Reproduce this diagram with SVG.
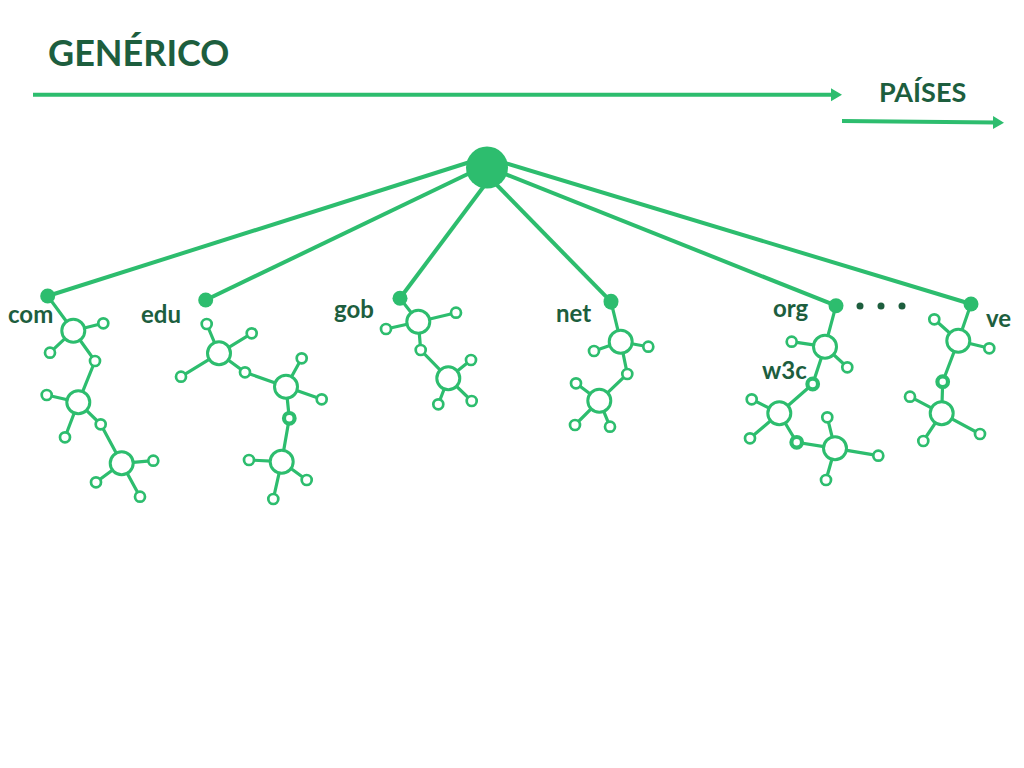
<svg xmlns="http://www.w3.org/2000/svg" width="1024" height="768" viewBox="0 0 1024 768">
<defs>
<marker id="arrow" markerUnits="userSpaceOnUse" markerWidth="12" markerHeight="14" refX="3" refY="6.5" orient="auto">
<path d="M0,0 L11,6.5 L0,13 Z" fill="#2dbd6e"/>
</marker>
</defs>
<style>
.title{font-family:Lato,"Liberation Sans",sans-serif;font-weight:bold;fill:#1d5e3e}
.lbl{font-family:Lato,"Liberation Sans",sans-serif;font-weight:bold;fill:#1d5e3e;font-size:24px}
.axis{stroke:#2dbd6e;stroke-width:4;fill:none}
.trunk{stroke:#2dbd6e;stroke-width:4;fill:none}
.bond{stroke:#2dbd6e;stroke-width:3.2;fill:none}
.dot{fill:#2dbd6e}
.hub{fill:#fff;stroke:#2dbd6e;stroke-width:3}
.sat{fill:#fff;stroke:#2dbd6e;stroke-width:2.7}
.thk{fill:#fff;stroke:#2dbd6e;stroke-width:4.2}
.ell{fill:#1d5e3e}
</style>
<rect width="1024" height="768" fill="#fff"/>

<g id="header">
<text class="title" x="48" y="66" font-size="36">GENÉRICO</text>
<text class="title" x="879" y="102" font-size="27">PAÍSES</text>
</g>

<g id="connectors">
<line class="axis" x1="33" y1="94.7" x2="834" y2="94.7" marker-end="url(#arrow)"/>
<line class="axis" x1="842" y1="121" x2="996" y2="122.6" marker-end="url(#arrow)"/>
<line class="trunk" x1="470" y1="162" x2="47.7" y2="296"/>
<line class="trunk" x1="472" y1="172" x2="205.7" y2="300"/>
<line class="trunk" x1="490" y1="178" x2="400" y2="298.3"/>
<line class="trunk" x1="490" y1="178" x2="611" y2="301.7"/>
<line class="trunk" x1="505" y1="174" x2="836" y2="305.7"/>
<line class="trunk" x1="505" y1="163" x2="971" y2="304"/>
</g>

<g id="root">
<circle class="dot" cx="487" cy="167.5" r="21"/>
</g>

<g id="com">
<path class="bond" d="M47.7,296 L73.3,330.7 M73.3,330.7 L103.3,323.3 M73.3,330.7 L50,352.7 M73.3,330.7 L95,361 L78.3,402.3 M78.3,402.3 L46.7,395 M78.3,402.3 L65,437.3 M78.3,402.3 L100.7,424.3 L121.7,463.3 M121.7,463.3 L153.3,460.7 M121.7,463.3 L96,482.3 M121.7,463.3 L140,496.7"/>
<circle class="dot" cx="47.7" cy="296" r="7.5"/>
<circle class="hub" cx="73.3" cy="330.7" r="11.5"/>
<circle class="hub" cx="78.3" cy="402.3" r="11.5"/>
<circle class="hub" cx="121.7" cy="463.3" r="11.5"/>
<circle class="sat" cx="103.3" cy="323.3" r="5"/>
<circle class="sat" cx="50" cy="352.7" r="5"/>
<circle class="sat" cx="95" cy="361" r="5"/>
<circle class="sat" cx="46.7" cy="395" r="5"/>
<circle class="sat" cx="65" cy="437.3" r="5"/>
<circle class="sat" cx="100.7" cy="424.3" r="5"/>
<circle class="sat" cx="153.3" cy="460.7" r="5"/>
<circle class="sat" cx="96" cy="482.3" r="5"/>
<circle class="sat" cx="140" cy="496.7" r="5"/>
<text class="lbl" x="8" y="323">com</text>
</g>

<g id="edu">
<path class="bond" d="M219,353.3 L206.7,324 M219,353.3 L251.7,333.3 M219,353.3 L181,376.7 M219,353.3 L245,372.3 L286,386.7 M286,386.7 L301.7,358.3 M286,386.7 L321.7,399.3 M286,386.7 L289.3,418.3 L281.7,461.7 M281.7,461.7 L249,460 M281.7,461.7 L306.7,480 M281.7,461.7 L273.3,499"/>
<circle class="dot" cx="205.7" cy="300" r="7.5"/>
<circle class="hub" cx="219" cy="353.3" r="11.5"/>
<circle class="hub" cx="286" cy="386.7" r="11.5"/>
<circle class="hub" cx="281.7" cy="461.7" r="11.5"/>
<circle class="sat" cx="206.7" cy="324" r="5"/>
<circle class="sat" cx="251.7" cy="333.3" r="5"/>
<circle class="sat" cx="181" cy="376.7" r="5"/>
<circle class="sat" cx="245" cy="372.3" r="5"/>
<circle class="sat" cx="301.7" cy="358.3" r="5"/>
<circle class="sat" cx="321.7" cy="399.3" r="5"/>
<circle class="thk" cx="289.3" cy="418.3" r="5.3"/>
<circle class="sat" cx="249" cy="460" r="5"/>
<circle class="sat" cx="306.7" cy="480" r="5"/>
<circle class="sat" cx="273.3" cy="499" r="5"/>
<text class="lbl" x="141" y="323">edu</text>
</g>

<g id="gob">
<path class="bond" d="M400,298.3 L418.3,321.7 M418.3,321.7 L456,312.7 M418.3,321.7 L386,329 M418.3,321.7 L420.7,350 L448.3,378.3 M448.3,378.3 L471,360 M448.3,378.3 L471.7,401 M448.3,378.3 L438.3,404.3"/>
<circle class="dot" cx="400" cy="298.3" r="7.5"/>
<circle class="hub" cx="418.3" cy="321.7" r="11.5"/>
<circle class="hub" cx="448.3" cy="378.3" r="11.5"/>
<circle class="sat" cx="456" cy="312.7" r="5"/>
<circle class="sat" cx="386" cy="329" r="5"/>
<circle class="sat" cx="420.7" cy="350" r="5"/>
<circle class="sat" cx="471" cy="360" r="5"/>
<circle class="sat" cx="471.7" cy="401" r="5"/>
<circle class="sat" cx="438.3" cy="404.3" r="5"/>
<text class="lbl" x="334" y="318">gob</text>
</g>

<g id="net">
<path class="bond" d="M611,301.7 L620.7,341.7 M620.7,341.7 L648.3,346.7 M620.7,341.7 L594,351 M620.7,341.7 L627.3,374 L599.3,400.7 M599.3,400.7 L576,383.3 M599.3,400.7 L575,425 M599.3,400.7 L610,426.7"/>
<ellipse class="dot" cx="611" cy="301.7" rx="7.5" ry="8"/>
<circle class="hub" cx="620.7" cy="341.7" r="11.5"/>
<circle class="hub" cx="599.3" cy="400.7" r="11.5"/>
<circle class="sat" cx="648.3" cy="346.7" r="5"/>
<circle class="sat" cx="594" cy="351" r="5"/>
<circle class="sat" cx="627.3" cy="374" r="5"/>
<circle class="sat" cx="576" cy="383.3" r="5"/>
<circle class="sat" cx="575" cy="425" r="5"/>
<circle class="sat" cx="610" cy="426.7" r="5"/>
<text class="lbl" x="556" y="322">net</text>
</g>

<g id="org">
<path class="bond" d="M836,305.7 L825,346.7 M825,346.7 L791.7,341.7 M825,346.7 L847.3,367.3 M825,346.7 L812.7,384 L779.3,413.3 M779.3,413.3 L751.7,399.3 M779.3,413.3 L750,438.3 M779.3,413.3 L796.7,442.3 L835,448.3 M835,448.3 L827.3,417.3 M835,448.3 L878.3,455.7 M835,448.3 L826,480"/>
<circle class="dot" cx="836" cy="305.7" r="7.5"/>
<circle class="hub" cx="825" cy="346.7" r="11.5"/>
<circle class="hub" cx="779.3" cy="413.3" r="11.5"/>
<circle class="hub" cx="835" cy="448.3" r="11.5"/>
<circle class="sat" cx="791.7" cy="341.7" r="5"/>
<circle class="sat" cx="847.3" cy="367.3" r="5"/>
<circle class="thk" cx="812.7" cy="384" r="5.3"/>
<circle class="sat" cx="751.7" cy="399.3" r="5"/>
<circle class="sat" cx="750" cy="438.3" r="5"/>
<circle class="thk" cx="796.7" cy="442.3" r="5.3"/>
<circle class="sat" cx="827.3" cy="417.3" r="5"/>
<circle class="sat" cx="878.3" cy="455.7" r="5"/>
<circle class="sat" cx="826" cy="480" r="5"/>
<text class="lbl" x="773" y="317">org</text>
<text class="lbl" x="762" y="379" font-size="17">w3c</text>
</g>

<g id="ellipsis">
<circle class="ell" cx="860" cy="306" r="3.5"/>
<circle class="ell" cx="881" cy="306" r="3.5"/>
<circle class="ell" cx="902" cy="306" r="3.5"/>
</g>

<g id="ve">
<path class="bond" d="M971,304 L958.3,340.7 M958.3,340.7 L934.3,319.3 M958.3,340.7 L989.3,348.3 M958.3,340.7 L942.7,381.7 L941.7,413.3 M941.7,413.3 L910,396.7 M941.7,413.3 L923.3,441 M941.7,413.3 L980,434"/>
<circle class="dot" cx="971" cy="304" r="7.5"/>
<circle class="hub" cx="958.3" cy="340.7" r="11.5"/>
<circle class="hub" cx="941.7" cy="413.3" r="11.5"/>
<circle class="sat" cx="934.3" cy="319.3" r="5"/>
<circle class="sat" cx="989.3" cy="348.3" r="5"/>
<circle class="thk" cx="942.7" cy="381.7" r="5.3"/>
<circle class="sat" cx="910" cy="396.7" r="5"/>
<circle class="sat" cx="923.3" cy="441" r="5"/>
<circle class="sat" cx="980" cy="434" r="5"/>
<text class="lbl" x="986" y="327">ve</text>
</g>
</svg>
